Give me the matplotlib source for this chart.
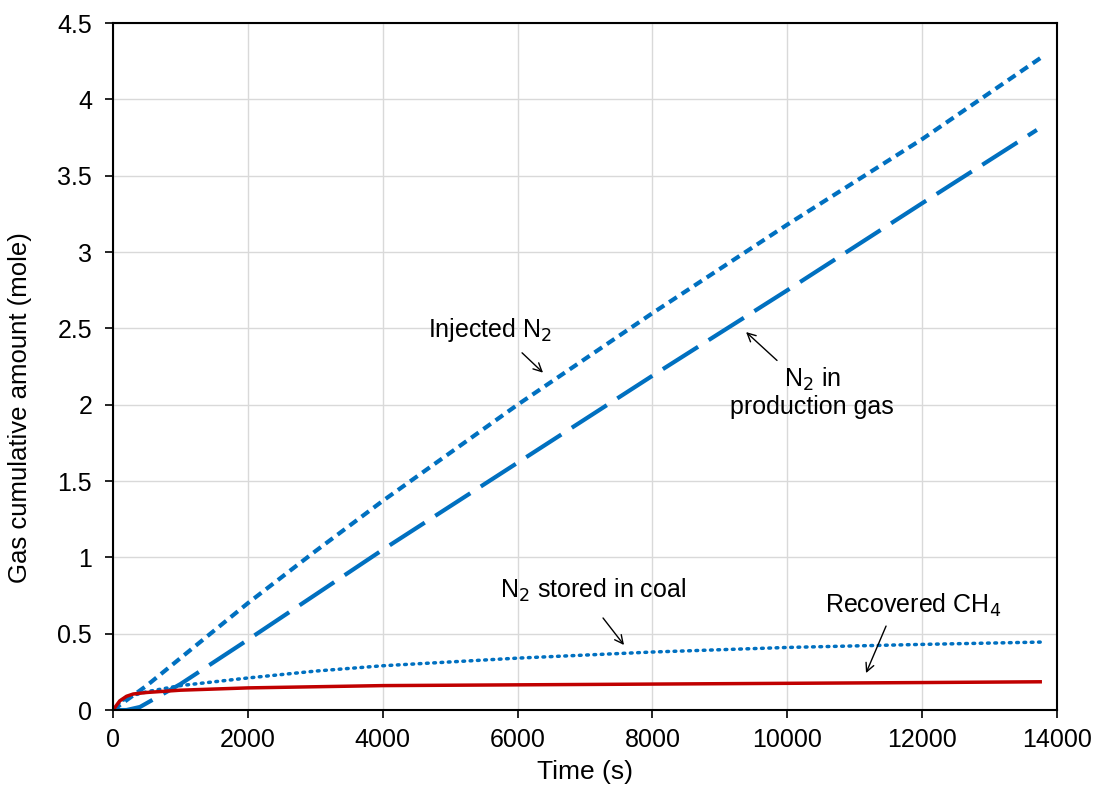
import matplotlib.pyplot as plt

plt.rcParams['font.family'] = ['Liberation Sans', 'DejaVu Sans']

# cumulative gas amounts (mole) vs time (s)
t_inj = [0, 250, 500, 1000, 2000, 3000, 4000, 6000, 8000, 10000, 12000, 13750]
n2_injected = [0, 0.08, 0.16, 0.34, 0.70, 1.04, 1.37, 2.00, 2.60, 3.18, 3.74, 4.27]

t_prod = [0, 200, 400, 600, 1000, 2000, 4000, 6000, 8000, 10000, 12000, 13700]
n2_produced = [0, 0.0, 0.02, 0.07, 0.17, 0.46, 1.05, 1.62, 2.19, 2.75, 3.32, 3.80]

t_store = [0, 100, 250, 500, 1000, 2000, 3000, 4000, 6000, 8000, 10000, 12000, 13750]
n2_stored = [0, 0.05, 0.09, 0.12, 0.16, 0.21, 0.255, 0.29, 0.34, 0.38, 0.41, 0.43, 0.445]

t_ch4 = [0, 100, 200, 300, 500, 1000, 2000, 4000, 6000, 8000, 10000, 12000, 13750]
ch4_recovered = [0, 0.06, 0.09, 0.105, 0.115, 0.13, 0.145, 0.16, 0.165, 0.17, 0.175, 0.18, 0.185]

blue = '#0070C0'
red = '#C00000'

fig = plt.figure(figsize=(10.97, 7.96), dpi=100)
ax = fig.add_axes([0.103, 0.108, 0.8606, 0.863])

ax.plot(t_inj, n2_injected, color=blue, lw=3, linestyle=(0, (2.2, 1.4)))
ax.plot(t_prod, n2_produced, color=blue, lw=3, linestyle=(0, (10, 3)))
ax.plot(t_store, n2_stored, color=blue, lw=2.5, linestyle=(0, (0.5, 1.6)),
        dash_capstyle='round')
ax.plot(t_ch4, ch4_recovered, color=red, lw=2.5)

ax.set_xlim(0, 14000)
ax.set_ylim(0, 4.5)
ax.set_xticks(range(0, 14001, 2000))
ax.set_yticks([0, 0.5, 1, 1.5, 2, 2.5, 3, 3.5, 4, 4.5])
ax.set_yticklabels(['0', '0.5', '1', '1.5', '2', '2.5', '3', '3.5', '4', '4.5'])
ax.grid(True, color='#d9d9d9', lw=1)
ax.set_axisbelow(True)
for s in ax.spines.values():
    s.set_color('black')
    s.set_linewidth(1.5)
ax.tick_params(direction='out', length=6, width=1.2, labelsize=18)
ax.tick_params(axis='y', pad=9)
ax.tick_params(axis='x', pad=7)
ax.set_xlabel('Time (s)', fontsize=19, labelpad=6)
ax.set_ylabel('Gas cumulative amount (mole)', fontsize=18.5)
ax.yaxis.set_label_coords(-0.086, 0.44)

arrow = dict(arrowstyle='->', color='black', lw=1, mutation_scale=15,
             shrinkA=0, shrinkB=0)

# labels and pointers for each curve
ax.text(5591, 2.49, 'Injected N$_2$', fontsize=18, ha='center', va='center')
ax.annotate('', xy=(6377, 2.21), xytext=(6066, 2.34), arrowprops=arrow)

ax.text(10366, 2.08, 'N$_2$ in\nproduction gas', fontsize=18, ha='center',
        va='center', linespacing=1.1)
ax.annotate('', xy=(9388, 2.476), xytext=(9847, 2.29), arrowprops=arrow)

ax.text(7119, 0.786, 'N$_2$ stored in coal', fontsize=18, ha='center', va='center')
ax.annotate('', xy=(7578, 0.426), xytext=(7267, 0.603), arrowprops=arrow)

ax.text(11864, 0.688, 'Recovered CH$_4$', fontsize=18, ha='center', va='center')
ax.annotate('', xy=(11167, 0.242), xytext=(11464, 0.55), arrowprops=arrow)

fig.savefig('out.png', dpi=100)
